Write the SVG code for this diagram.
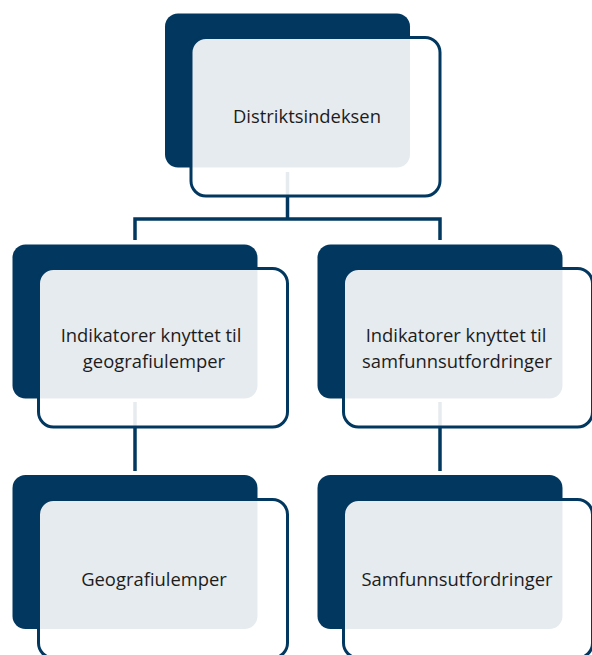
<svg xmlns="http://www.w3.org/2000/svg" width="592" height="655" viewBox="0 0 592 655">
<style>
.back{fill:#02385f}
.front{fill:#ffffff;fill-opacity:0.9;stroke:#02385f;stroke-width:3}
.conn{fill:none;stroke:#02385f;stroke-width:3.5}
text{font-family:"Open Sans","Noto Sans","Liberation Sans",sans-serif;font-size:18.4px;fill:#1c1c1c;text-anchor:middle}
</style>
<rect width="592" height="655" fill="#ffffff"/>
<g id="connectors">
<path class="conn" d="M287.5,172 V219 M135,240 V219 H440 V240"/>
<path class="conn" d="M135,402 V471"/>
<path class="conn" d="M440,402 V471"/>
</g>
<g id="node-distriktsindeksen">
<rect class="back" x="165" y="13.5" width="245" height="154" rx="13"/>
<rect class="front" x="191" y="37.5" width="249" height="158.5" rx="15"/>
<text x="307" y="123">Distriktsindeksen</text>
</g>
<g id="node-geo-indikatorer">
<rect class="back" x="12.5" y="244.5" width="245" height="154" rx="13"/>
<rect class="front" x="38.5" y="268.5" width="249" height="158.5" rx="15"/>
<text x="151" y="342">Indikatorer knyttet til</text>
<text x="154" y="368">geografiulemper</text>
</g>
<g id="node-samf-indikatorer">
<rect class="back" x="317.5" y="244.5" width="245" height="154" rx="13"/>
<rect class="front" x="343.5" y="268.5" width="249" height="158.5" rx="15"/>
<text x="456" y="342">Indikatorer knyttet til</text>
<text x="457" y="368">samfunnsutfordringer</text>
</g>
<g id="node-geografiulemper">
<rect class="back" x="12.5" y="475" width="245" height="154" rx="13"/>
<rect class="front" x="38.5" y="499.5" width="249" height="158.5" rx="15"/>
<text x="154" y="586">Geografiulemper</text>
</g>
<g id="node-samfunnsutfordringer">
<rect class="back" x="317.5" y="475" width="245" height="154" rx="13"/>
<rect class="front" x="343.5" y="499.5" width="249" height="158.5" rx="15"/>
<text x="457" y="586">Samfunnsutfordringer</text>
</g>
</svg>
